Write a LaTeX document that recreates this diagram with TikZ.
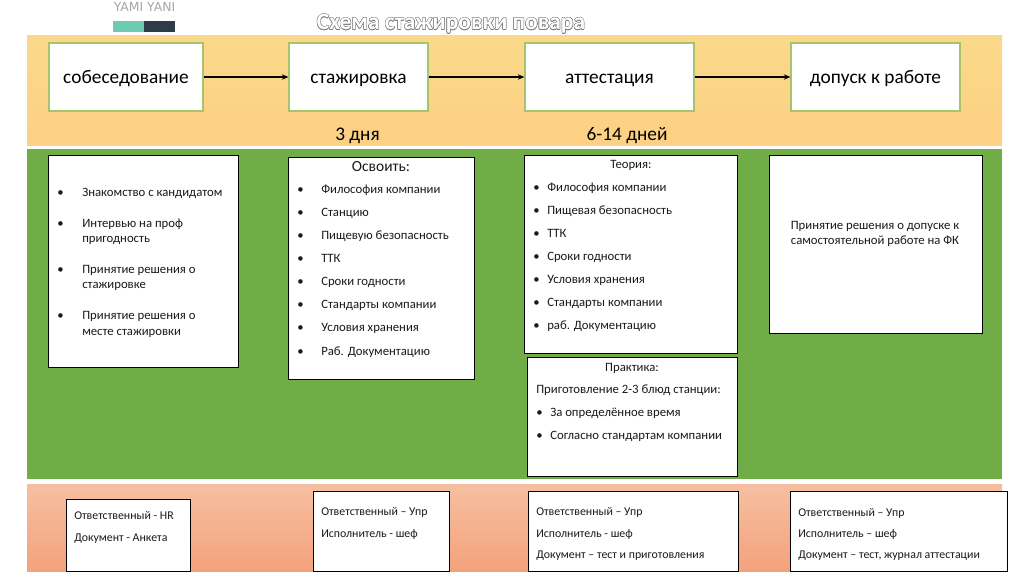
\documentclass[tikz,border=0pt]{standalone}
\usepackage{fontspec}
\usepackage{contour}
\setmainfont{Carlito}
\newfontfamily\logofont{DejaVu Sans}
\contourlength{0.3pt}
\definecolor{bandgreen}{HTML}{70AD47}
\definecolor{boxgreen}{HTML}{A5C46B}
\definecolor{ink}{HTML}{1A1A1A}
\definecolor{ortop}{HTML}{FBD98A}
\definecolor{orbot}{HTML}{FDD083}
\definecolor{satop}{HTML}{F6BFA2}
\definecolor{sabot}{HTML}{F4A27C}
\definecolor{logoteal}{HTML}{6DC9B0}
\definecolor{logodark}{HTML}{2F3B47}
\tikzset{
 x=0.75pt,y=-0.75pt,
 ln/.style={anchor=west,inner sep=0pt,yshift=-0.75pt,text=ink,text height=0.7em,text depth=0.2em,font=\fontsize{9.55pt}{10pt}\selectfont},
 lb/.style={ln,font=\fontsize{8.9pt}{10pt}\selectfont},
 hd/.style={inner sep=0pt,yshift=-2.2pt,text=black,text height=0.7em,text depth=0.2em,font=\fontsize{14.5pt}{15pt}\selectfont},
 whitebox/.style={draw=black,line width=0.7pt,fill=white,inner sep=0pt},
 topbox/.style={draw=boxgreen,line width=0.8pt,fill=white,inner sep=0pt},
 flow/.style={-{Stealth[length=5pt,width=4pt]},line width=0.9pt,black},
}
\newcommand{\bxn}[6]{\node[#1,minimum width={(#5-#3)*0.75pt},minimum height={(#6-#4)*0.75pt}] (#2) at ({(#3+#5)/2},{(#4+#6)/2}) {};}
\newcommand{\lin}[4]{\node[ln] (#1) at (#2,#3) {#4};}
\newcommand{\lib}[4]{\node[lb] (#1) at (#2,#3) {#4};}
\newcommand{\blt}[5]{\node[ln] (#1b) at (#2,#4) {•};\node[ln] (#1) at (#3,#4) {#5};}
\usetikzlibrary{arrows.meta}
\begin{document}
\begin{tikzpicture}
\useasboundingbox (0,0) rectangle (1024,574);
\fill[white] (0,0) rectangle (1024,574);
% logo
\node[inner sep=0pt,text=gray!70,font=\logofont\fontsize{9.3pt}{10pt}\selectfont] (logo) at (144.5,7) {YAMI YANI};
\fill[logoteal] (113,21) rectangle (144,32);
\fill[logodark] (144,21) rectangle (175,32);
% title
\node[inner sep=0pt,font=\bfseries\fontsize{17.6pt}{19pt}\selectfont,text=white] (title) at (451,24) {\contour{gray}{Схема стажировки повара}};
% bands
\shade[top color=ortop,bottom color=orbot] (27,36) rectangle (1002,146);
\fill[bandgreen] (27,149) rectangle (1002,479);
\shade[top color=satop,bottom color=sabot] (27,484) rectangle (1002,571);
% top row
\bxn{topbox}{a}{49}{43}{203}{111}
\bxn{topbox}{b}{289}{43}{428}{111}
\bxn{topbox}{c}{525}{43}{694}{111}
\bxn{topbox}{d}{791}{43}{960}{111}
\node[hd] (at) at (a) {собеседование};
\node[hd] (bt) at (b) {стажировка};
\node[hd] (ct) at (c) {аттестация};
\node[hd] (dt) at (d) {допуск к работе};
\draw[flow] (a) -- (b);
\draw[flow] (b) -- (c);
\draw[flow] (c) -- (d);
\node[hd] (d3) at (357.5,134) {3 дня};
\node[hd] (d6) at (627,134) {6-14 дней};
% green boxes
\bxn{whitebox}{g1}{48}{155}{238}{367}
\bxn{whitebox}{g2}{288}{157}{474}{379}
\bxn{whitebox}{g3}{524}{155}{737}{353}
\bxn{whitebox}{g4}{527}{357}{737}{476}
\bxn{whitebox}{g5}{769}{155}{982}{333}
% g1
\blt{p1}{57}{82}{192}{Знакомство с кандидатом}
\blt{p2}{57}{82}{223}{Интервью на проф}
\lin{p2a}{82}{238}{пригодность}
\blt{p3}{57}{82}{269}{Принятие решения о}
\lin{p3a}{82}{284}{стажировке}
\blt{p4}{57}{82}{315}{Принятие решения о}
\lin{p4a}{82}{331}{месте стажировки}
% g2
\node[ln,anchor=center,font=\fontsize{11.6pt}{12pt}\selectfont] (q0) at (381,167) {Освоить:};
\blt{q1}{297}{321}{189}{Философия компании}
\blt{q2}{297}{321}{212}{Станцию}
\blt{q3}{297}{321}{235}{Пищевую безопасность}
\blt{q4}{297}{321}{258}{ТТК}
\blt{q5}{297}{321}{281}{Сроки годности}
\blt{q6}{297}{321}{304}{Стандарты компании}
\blt{q7}{297}{321}{327}{Условия хранения}
\blt{q8}{297}{321}{351}{Раб. Документацию}
% g3
\node[ln,anchor=center] (r0) at (631,164) {Теория:};
\blt{r1}{533}{547}{187}{Философия компании}
\blt{r2}{533}{547}{210}{Пищевая безопасность}
\blt{r3}{533}{547}{233}{ТТК}
\blt{r4}{533}{547}{256}{Сроки годности}
\blt{r5}{533}{547}{279}{Условия хранения}
\blt{r6}{533}{547}{302}{Стандарты компании}
\blt{r7}{533}{547}{325}{раб. Документацию}
% g4
\node[ln,anchor=center] (s0) at (632,367) {Практика:};
\lin{s1}{536}{389}{Приготовление 2-3 блюд станции:}
\blt{s2}{536}{550}{412}{За определённое время}
\blt{s3}{536}{550}{435}{Согласно стандартам компании}
% g5
\node[ln,anchor=center,text height=,text depth=,align=center,font=\fontsize{9.55pt}{11.6pt}\selectfont] (t1) at (875,233) {Принятие решения о допуске к\\самостоятельной работе на ФК};
% bottom boxes
\bxn{whitebox}{h1}{66}{499}{190}{571}
\bxn{whitebox}{h2}{313}{491}{449}{571}
\bxn{whitebox}{h3}{528}{491}{738}{571}
\bxn{whitebox}{h4}{790}{491}{1007}{571}
\lib{u1}{74}{515}{Ответственный - HR}
\lib{u2}{74}{537}{Документ - Анкета}
\lib{v1}{321}{511}{Ответственный – Упр}
\lib{v2}{321}{533}{Исполнитель - шеф}
\lib{w1}{536}{511}{Ответственный – Упр}
\lib{w2}{536}{533}{Исполнитель - шеф}
\lib{w3}{536}{554}{Документ – тест и приготовления}
\lib{x1}{798}{512}{Ответственный – Упр}
\lib{x2}{798}{533}{Исполнитель – шеф}
\lib{x3}{798}{554}{Документ – тест, журнал аттестации}
\end{tikzpicture}
\end{document}
